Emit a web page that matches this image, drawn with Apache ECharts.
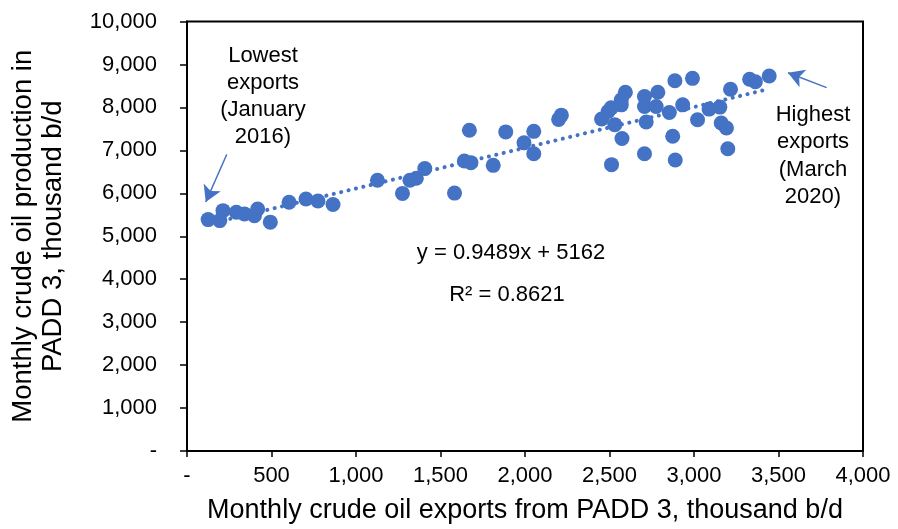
<!DOCTYPE html>
<html>
<head>
<meta charset="utf-8">
<script src="https://cdn.jsdelivr.net/npm/echarts@6/dist/echarts.min.js"></script>
<style>
html,body{margin:0;padding:0;background:#fff;}
#chart{width:898px;height:529px;}
</style>
</head>
<body>
<div id="chart"></div>
<script>
// Monthly crude oil exports from PADD 3 (thousand b/d)
var exportsX = [125,194,213,292,340,399,418,493,604,704,775,864,
  1127,1275,1319,1357,1407,1583,1641,1680,1671,1812,1886,1994,2052,2052,2199,2215,
  2453,2492,2510,2531,2570,2570,2594,2574,2512,2707,2707,2717,2707,2786,2776,2854,2874,2889,2887,
  2991,2933,3021,3089,3153,3161,3192,3200,3216,3329,3363,3445];
// Monthly crude oil production in PADD 3 (thousand b/d)
var productionY = [5388,5365,5596,5559,5520,5480,5635,5328,5790,5866,5820,5739,
  6305,5998,6305,6351,6575,6005,6751,6714,7467,6651,7430,7175,7443,6922,7720,7820,
  7730,7905,7990,7598,8176,8060,8353,7275,6667,8252,8021,7661,6921,8353,8021,7882,7328,6774,8621,
  8677,8060,7714,7961,8007,7637,7522,7037,8423,8654,8598,8730];
// Linear trendline y = 0.9489x + 5162, endpoints at min/max exports
var trendX = [125, 3445];
var trendY = [5281, 8431];
var xTickLabels = ['-','500','1,000','1,500','2,000','2,500','3,000','3,500','4,000'];
var yTickLabels = ['-','1,000','2,000','3,000','4,000','5,000','6,000','7,000','8,000','9,000','10,000'];
var equationText = 'y = 0.9489x + 5162';
var r2Text = 'R\u00b2 = 0.8621';

var points = exportsX.map(function(x,i){return [x, productionY[i]];});
var trend = trendX.map(function(x,i){return [x, trendY[i]];});
var blue = '#4472C4';
var font = 'Liberation Sans, Arial, sans-serif';

var chart = echarts.init(document.getElementById('chart'), null, {renderer:'canvas'});
chart.setOption({
  animation:false,
  backgroundColor:'#fff',
  grid:{left:182,right:35,top:21.5,bottom:75,show:true,borderColor:'#000',borderWidth:2,containLabel:false},
  xAxis:{
    type:'value',min:0,max:4000,interval:500,
    name:'Monthly crude oil exports from PADD 3, thousand b/d',
    nameLocation:'middle',nameGap:46,
    nameTextStyle:{fontFamily:font,fontSize:27,color:'#000'},
    axisLine:{show:true,lineStyle:{color:'#000',width:2}},
    axisTick:{show:true,inside:false,length:6,lineStyle:{color:'#000',width:1.5}},
    axisLabel:{margin:14,fontFamily:font,fontSize:22,color:'#000',
      formatter:function(v){return xTickLabels[Math.round(v/500)];}},
    splitLine:{show:false}
  },
  yAxis:{
    type:'value',min:0,max:10000,interval:1000,
    name:'Monthly crude oil production in\nPADD 3, thousand b/d',
    nameLocation:'middle',nameGap:119,nameRotate:90,
    nameTextStyle:{fontFamily:font,fontSize:27.5,color:'#000',lineHeight:30},
    axisLine:{show:true,lineStyle:{color:'#000',width:2}},
    axisTick:{show:true,inside:false,length:7,lineStyle:{color:'#000',width:1.5}},
    axisLabel:{margin:30,fontFamily:font,fontSize:22,color:'#000',
      formatter:function(v){return yTickLabels[Math.round(v/1000)];}},
    splitLine:{show:false}
  },
  series:[
    {
      type:'line',data:trend,symbol:'none',silent:true,z:1,
      lineStyle:{color:blue,width:4,type:[0.1,7.5],cap:'round'},
      markLine:{
        silent:true,symbol:['none','arrow'],symbolSize:[14,16],
        label:{show:false},
        lineStyle:{color:blue,width:1.5,type:'solid'},
        data:[
          [{coord:[235,6905]},{coord:[111,5797]}],
          [{coord:[3785,8460]},{coord:[3556,8806]}]
        ]
      }
    },
    {
      type:'scatter',data:points,symbol:'circle',symbolSize:15,z:3,
      itemStyle:{color:blue,opacity:1}
    }
  ],
  graphic:[
    {type:'text',x:263,y:42,style:{text:'Lowest\nexports\n(January\n2016)',fontFamily:font,fontSize:22,lineHeight:27,fill:'#000',align:'center',verticalAlign:'top'}},
    {type:'text',x:813,y:101,style:{text:'Highest\nexports\n(March\n2020)',fontFamily:font,fontSize:22,lineHeight:27.5,fill:'#000',align:'center',verticalAlign:'top'}},
    {type:'text',x:511,y:253,style:{text:equationText,fontFamily:font,fontSize:22,fill:'#000',align:'center',verticalAlign:'middle'}},
    {type:'text',x:507,y:295,style:{text:r2Text,fontFamily:font,fontSize:22,fill:'#000',align:'center',verticalAlign:'middle'}}
  ]
});
</script>
</body>
</html>
